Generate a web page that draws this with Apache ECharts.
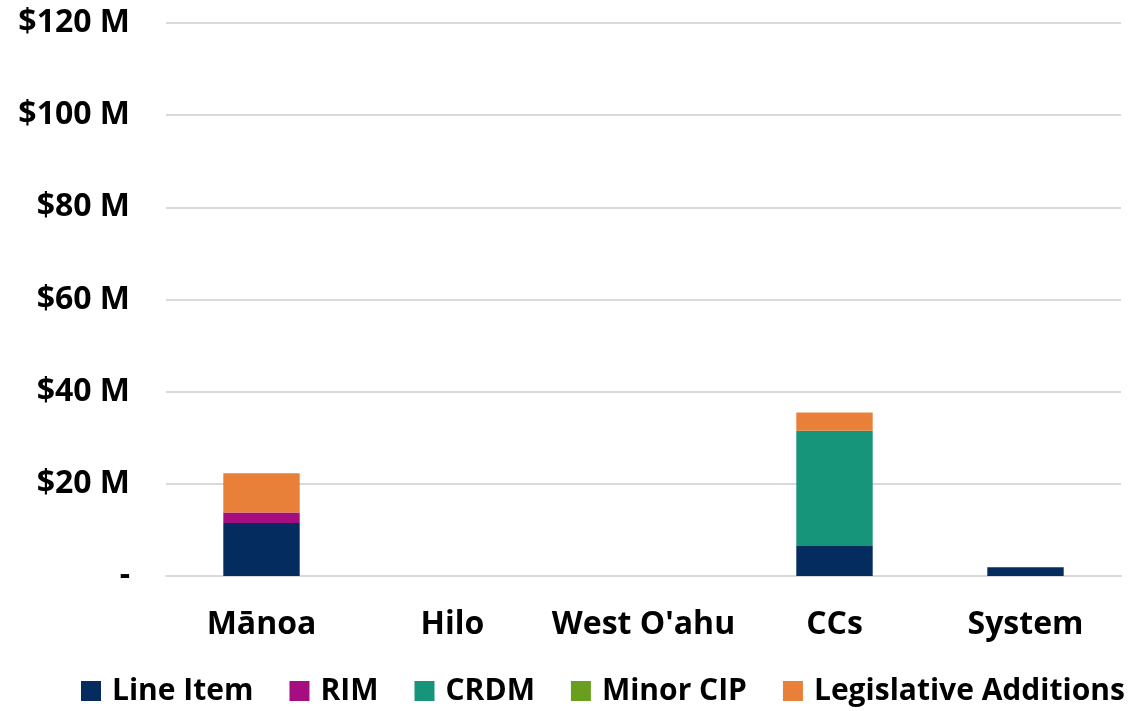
<!DOCTYPE html>
<html>
<head>
<meta charset="utf-8">
<script src="https://cdn.jsdelivr.net/npm/echarts@6/dist/echarts.min.js"></script>
<style>
  html, body { margin: 0; padding: 0; background: #fff; }
  #chart { width: 1135px; height: 711px; }
</style>
</head>
<body>
<div id="chart"></div>
<script>
var campuses = ["Mānoa", "Hilo", "West O'ahu", "CCs", "System"];

// $ millions
var lineItem = [11.5, 0, 0, 6.5, 1.9];
var rim = [2.3, 0, 0, 0, 0];
var crdm = [0, 0, 0, 25.0, 0];
var minorCip = [0, 0, 0, 0, 0];
var legislative = [8.5, 0, 0, 4.0, 0];

var seriesNames = ["Line Item", "RIM", "CRDM", "Minor CIP", "Legislative Additions"];
var seriesData = [lineItem, rim, crdm, minorCip, legislative];
var seriesColors = ["#052c5f", "#a50d80", "#16957a", "#6a9e1f", "#e8803a"];

var chartDom = document.getElementById("chart");
var myChart = echarts.init(chartDom);

var font = "'Open Sans', sans-serif";

var option = {
  animation: false,
  textStyle: { fontFamily: font },
  color: seriesColors,
  grid: { left: 166, right: 14, top: 23, bottom: 135 },
  legend: {
    bottom: 0,
    left: 76,
    itemWidth: 20,
    itemHeight: 20,
    itemGap: 36,
    icon: "rect",
    textStyle: { fontFamily: font, fontWeight: "bold", fontSize: 30, color: "#000", padding: [0, 0, 0, 6] },
    data: seriesNames
  },
  xAxis: {
    type: "category",
    data: campuses,
    axisLine: { lineStyle: { color: "#d9d9d9", width: 2 } },
    axisTick: { show: false },
    axisLabel: { interval: 0, fontFamily: font, fontWeight: "bold", fontSize: 32, color: "#000", margin: 33 }
  },
  yAxis: {
    type: "value",
    min: 0,
    max: 120,
    interval: 20,
    axisLine: { show: false },
    axisTick: { show: false },
    splitLine: { lineStyle: { color: "#d9d9d9", width: 2 } },
    axisLabel: {
      fontFamily: font, fontWeight: "bold", fontSize: 32, color: "#000", margin: 36,
      formatter: function (v) { return v === 0 ? "-" : "$" + v + " M"; }
    }
  },
  series: seriesNames.map(function (name, i) {
    return {
      name: name,
      type: "bar",
      stack: "total",
      barWidth: "40%",
      data: seriesData[i]
    };
  })
};

option && myChart.setOption(option);
</script>
</body>
</html>
